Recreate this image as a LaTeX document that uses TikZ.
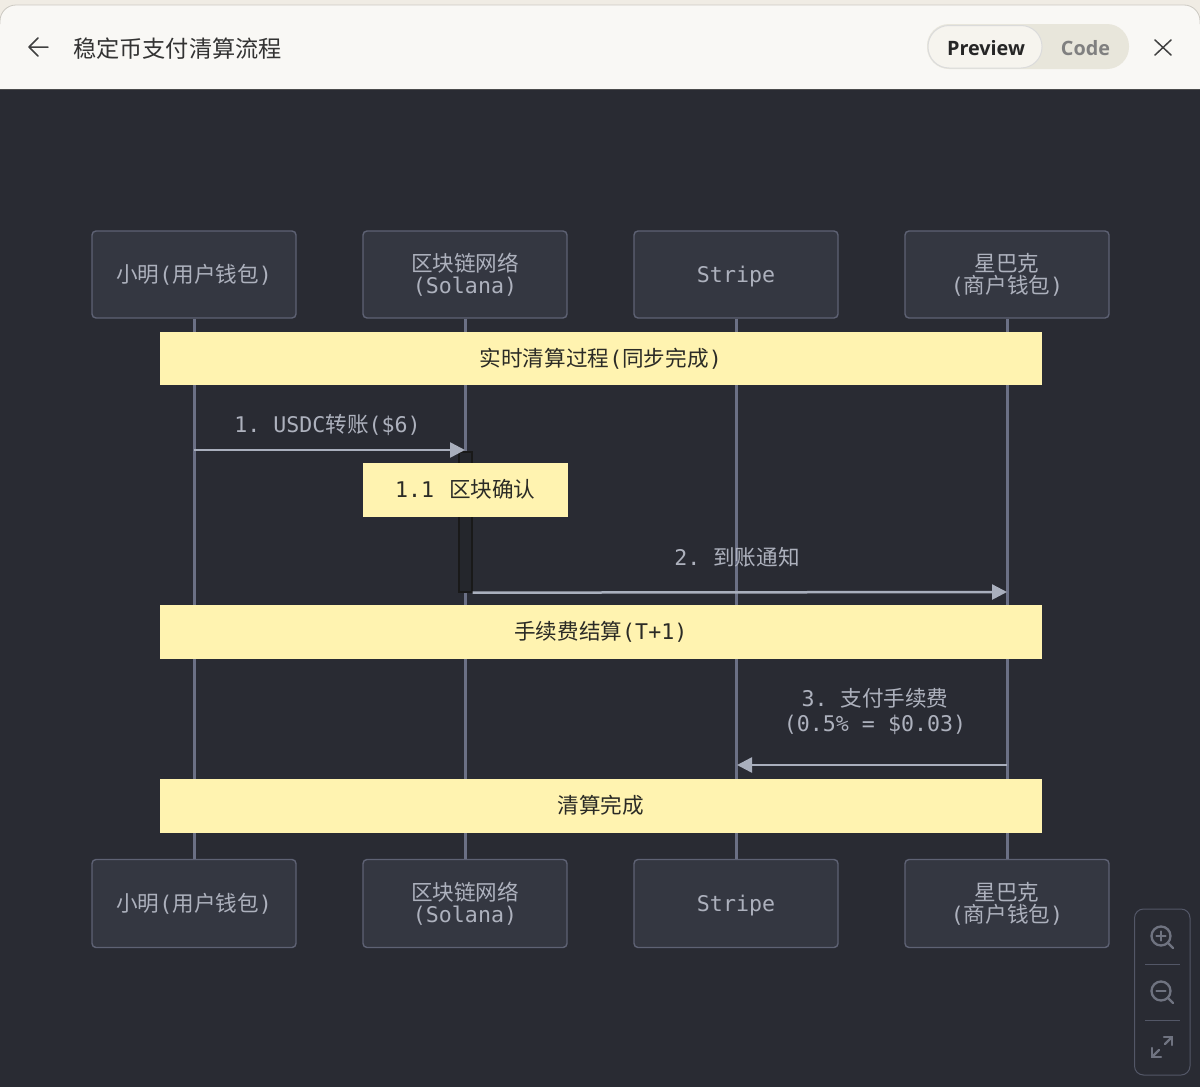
\documentclass[tikz,border=0pt]{standalone}
\usepackage{fontspec}
\usepackage{xcolor}
\setmainfont{Open Sans}
\newfontfamily\monof{DejaVu Sans Mono}
\newfontfamily\cjk{Noto Sans CJK SC}
\newcommand{\zh}[1]{{\cjk #1}}
\usetikzlibrary{calc}
\usetikzlibrary{arrows.meta}

\definecolor{panelbg}{HTML}{292B33}
\definecolor{barbg}{HTML}{F9F8F5}
\definecolor{stripbg}{HTML}{F0ECE4}
\definecolor{togglebg}{HTML}{E8E6DB}
\definecolor{toggleon}{HTML}{F6F4EE}
\definecolor{boxfill}{HTML}{343741}
\definecolor{boxline}{HTML}{5E6274}
\definecolor{lifeline}{HTML}{6B7085}
\definecolor{msgtext}{HTML}{ADB1BD}
\definecolor{msgline}{HTML}{A9AFBD}
\definecolor{notefill}{HTML}{FFF3B0}
\definecolor{notetext}{HTML}{2B2B26}
\definecolor{iconcol}{HTML}{6F7380}
\definecolor{activefill}{HTML}{24262C}

\tikzset{>={Triangle[length=15pt,width=15pt]}}
\tikzset{
	actorbox/.style={draw=boxline, fill=boxfill, line width=1.4pt, rounded corners=4pt,
		minimum width=204pt, minimum height=87pt, inner sep=0pt, align=center,
		text=msgtext, font=\fontsize{21.6}{22}\selectfont\monof\frenchspacing},
	notebox/.style={fill=notefill, minimum height=53.5pt, inner sep=0pt, align=center,
		text=notetext, font=\fontsize{21.6}{25}\selectfont\monof\frenchspacing},
	msglabel/.style={inner sep=0pt, align=center, text=msgtext,
		font=\fontsize{21.6}{25}\selectfont\monof\frenchspacing},
	msgarrow/.style={->, line width=2.5pt, draw=msgline},
	icon/.style={draw=iconcol, line width=2.3pt, line cap=round}
}

\begin{document}
\begin{tikzpicture}[x=1pt, y=-1pt]
	\useasboundingbox (0,0) rectangle (1200,1087);

	% Background
	\fill[stripbg] (0,0) rectangle (1200,89);
	\fill[barbg, rounded corners=16pt] (0,5) -- (1200,5) -- (1200,120) -- (0,120) -- cycle;
	\draw[stripbg!85!black, line width=0.8pt, rounded corners=16pt] (0,24) -- (0,5) -- (1200,5) -- (1200,24);
	\fill[panelbg] (0,89) rectangle (1200,1087);
	\draw[black!70, line width=1pt] (0,89.5) -- (1200,89.5);

	% Top bar
	\coordinate (backTip) at (29,47);
	\coordinate (backEnd) at (48,47);
	\draw[line width=1.5pt, draw=black!75, line cap=round, line join=round]
	(backEnd) -- (backTip) -- (38,38) (backTip) -- (38,56);
	\node[anchor=west, inner sep=0pt, text=black!80, font=\fontsize{23.2}{25}\selectfont\cjk] (title) at (73,49) {稳定币支付清算流程};

	\fill[togglebg, rounded corners=22pt] (927,24) rectangle (1129,69);
	\filldraw[fill=toggleon, draw=black!14, line width=1pt, rounded corners=21pt] (928,25.5) rectangle (1042,68);
	\node[inner sep=0pt, text=black!85, font=\fontsize{19.8}{22}\selectfont\bfseries] (preview) at (986,48) {Preview};
	\node[inner sep=0pt, text=black!50, font=\fontsize{19.8}{22}\selectfont\bfseries] (code) at (1085.5,48) {Code};

	\coordinate (closeA) at (1155,40);
	\coordinate (closeB) at (1171,55);
	\coordinate (closeC) at (1171,40);
	\coordinate (closeD) at (1155,55);
	\draw[line width=1.5pt, draw=black!75, line cap=round] (closeA) -- (closeB) (closeC) -- (closeD);

	% Actors, top and bottom, and their lifelines
	\foreach \name/\x/\txt in {
		ming/194/{\zh{小明}(\zh{用户钱包})},
		chain/465/{\zh{区块链网络}\\(Solana)},
		stripe/736/{\raisebox{0pt}[15pt][0pt]{Stripe}},
		shop/1007/{\zh{星巴克}\\(\zh{商户钱包})}}
	{
		\node[actorbox] (\name Top) at (\x,274.5) {\txt};
		\node[actorbox, minimum height=88pt] (\name Bot) at (\x,903.5) {\txt};
		\draw[line width=3pt, draw=lifeline] (\name Top) -- (\name Bot);
	}

	% Activation
	\node[draw=black!90, fill=activefill, line width=1.3pt, minimum width=13pt, minimum height=140pt, inner sep=0pt] (active) at (465.5,522) {};

	% Notes
	\node[notebox, minimum width=882.5pt] (noteA) at (600.75,358.5) {\zh{实时清算过程}(\zh{同步完成})};
	\node[notebox, minimum width=204.5pt] (noteB) at (465.25,489.75) {1.1\kern2pt{} \zh{区块确认}};
	\node[notebox, minimum width=882.5pt] (noteC) at (600.75,631.75) {\zh{手续费结算}(T+1)};
	\node[notebox, minimum width=882.5pt] (noteD) at (600.75,805.75) {\zh{清算完成}};

	% Messages
	\coordinate (msgAfrom) at (194,450);
	\coordinate (msgAto) at (465,450);
	\coordinate (msgBfrom) at (active.south east);
	\coordinate (msgBto) at (1007,592);
	\coordinate (msgCfrom) at (1007,765);
	\coordinate (msgCto) at (737,765);
	\draw[msgarrow] (msgAfrom) -- (msgAto);
	\draw[msgarrow] (msgBfrom) -- (msgBto);
	\draw[msgarrow] (msgCfrom) -- (msgCto);
	\node[msglabel] (labelA) at (327.5,425) {1. USDC\zh{转账}(\$6)};
	\node[msglabel] (labelB) at (737,557) {2. \zh{到账通知}};
	\node[msglabel] (labelC) at (875,711.5) {3. \zh{支付手续费}\\(0.5\% = \$0.03)};

	% Zoom controls
	\draw[draw=boxline!80!panelbg, line width=1pt, rounded corners=9pt] (1134.5,909) rectangle (1190,1075);
	\draw[draw=boxline!80!panelbg, line width=1pt] (1145,964.5) -- (1180,964.5) (1145,1020) -- (1180,1020);
	\foreach \y in {936,991}
	{
		\draw[icon] (1161,\y) circle (9.5pt);
		\draw[icon] (1168,\y+7) -- (1173,\y+12);
		\draw[icon] (1156.5,\y) -- (1165.5,\y);
	}
	\draw[icon] (1161,931.5) -- (1161,940.5);
	\draw[icon] (1153,1056) -- (1159,1050);
	\draw[icon] (1165,1044) -- (1171,1038);
	\draw[icon] (1164,1037) -- (1172,1037) -- (1172,1045);
	\draw[icon] (1152,1048) -- (1152,1057) -- (1161,1057);
\end{tikzpicture}
\end{document}
